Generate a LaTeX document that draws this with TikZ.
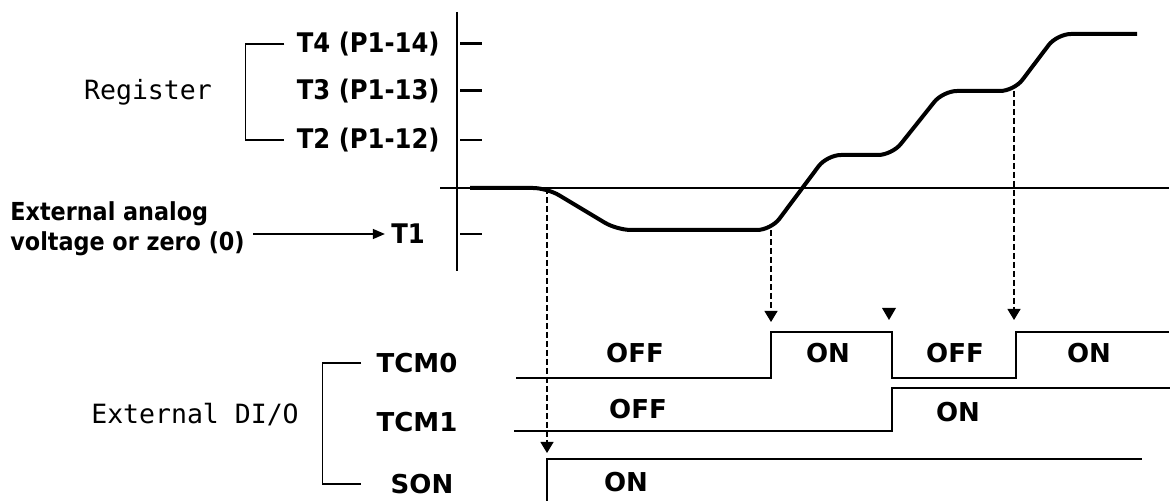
\documentclass[tikz,border=0pt]{standalone}
\usepackage{fontspec}
\setmonofont{DejaVu Sans Mono}
\newfontfamily\condfont{DejaVu Sans Condensed}
\newfontfamily\plainfont{DejaVu Sans}
\usetikzlibrary{arrows.meta, positioning}

\tikzset{
  reglabel/.style={font=\condfont\bfseries\fontsize{13.5}{16}\selectfont, inner sep=0pt},
  analoglabel/.style={font=\condfont\bfseries\fontsize{12.4}{15}\selectfont, inner xsep=4pt, inner ysep=0pt, align=left},
  monolabel/.style={font=\ttfamily\fontsize{13.25}{16}\selectfont, inner sep=0pt},
  siglabel/.style={font=\plainfont\bfseries\fontsize{13}{16}\selectfont, inner sep=0pt},
  axisline/.style={line width=0.7pt},
  profile/.style={line width=2pt, rounded corners=7pt},
  timeline/.style={line width=0.7pt},
  droptip/.style={-{Triangle[length=5.5pt,width=6.5pt]}},
  dropline/.style={line width=0.6pt, dash pattern=on 3pt off 1.5pt, droptip},
}

\begin{document}
\begin{tikzpicture}[x=0.5pt, y=-0.5pt]
    \useasboundingbox (0,0) rectangle (1172,501);
    % axes
    \draw[axisline] (457,12) -- (457,271);
    \draw[axisline] (440,188) -- (1169,188);
    % register levels T2..T4
    \foreach \n/\p/\y/\w in {4/14/44/1.5pt, 3/13/91/1.5pt, 2/12/140/0.7pt} {
        \node[reglabel, anchor=east] (t\n) at (440,\y) {T\n\ (P1-\p)};
        \draw[line width=\w] (460,\y) -- (482,\y);
    }
    \draw[line width=0.7pt] (460,234) -- (482,234);
    \node[reglabel] (t1) at (408,234) {T1};
    \node[monolabel] (reg) at (148,92) {Register};
    \draw[timeline] ([xshift=-6pt]t4.west) -- ++(-39,0) |- ([xshift=-6pt]t2.west);
    \node[analoglabel, anchor=west] (analog) at (2,229) {External analog\\voltage or zero (0)};
    \draw[timeline, -{Triangle[length=6pt,width=5pt]}] (analog.east |- t1.west) -- ([xshift=-3pt]t1.west);
    % torque profile
    \coordinate (d1) at (547,188);
    \coordinate (d2) at (771,230);
    \coordinate (d3) at (1014,91);
    \draw[profile] (470,188) -- (d1) -- (617,230) -- (d2) -- (827,155) -- (892,155)
        -- (943,91) -- (d3) -- (1057,34) -- (1137,34);
    % drops to the switching edges
    \coordinate (e1) at (547,453);
    \coordinate (e2) at (771,322);
    \coordinate (e3) at (1014,320);
    \draw[dropline] (d1) -- (e1);
    \draw[dropline] (d2) -- (e2);
    \draw[dropline] (d3) -- (e3);
    \fill (882,308) -- (896,308) -- (889,320) -- cycle;
    % external DI/O
    \node[monolabel] (dio) at (195,415) {External DI/O};
    \node[siglabel] (tcm0) at (417,363) {TCM0};
    \node[siglabel] (tcm1) at (417,422) {TCM1};
    \node[siglabel] (son) at (422,484) {SON};
    \draw[timeline] ([xshift=-7.5pt]tcm0.west) -- ++(-39,0) |- ([xshift=-7.5pt]tcm0.west |- son.west);
    % waveforms
    \draw[timeline] (516,378) -- (771,378) -- (771,332) -- (892,332) -- (892,378)
        -- (1016,378) -- (1016,332) -- (1169,332);
    \draw[timeline] (514,431) -- (892,431) -- (892,388) -- (1170,388);
    \draw[timeline] (547,501) -- (547,459) -- (1142,459);
    \foreach \s/\x/\y/\t in {a/635/353/OFF, b/828/353/ON, c/955/353/OFF, d/1089/353/ON,
                             e/638/409/OFF, f/958/412/ON, g/626/482/ON} {
        \node[siglabel] (lv\s) at (\x,\y) {\t};
    }
\end{tikzpicture}
\end{document}
